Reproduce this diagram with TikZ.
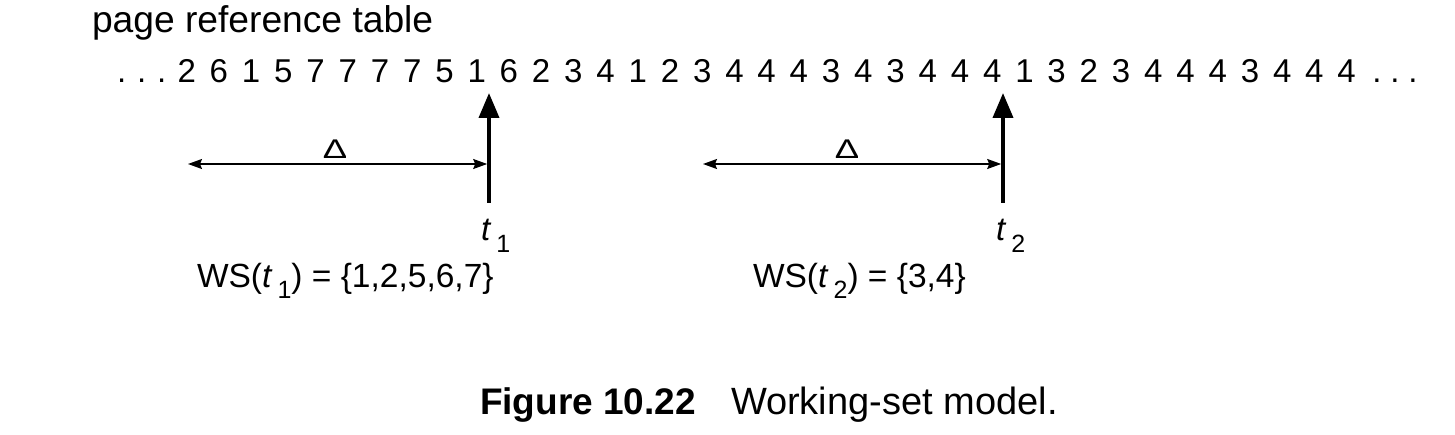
\documentclass[tikz,border=0pt]{standalone}
\usepackage{fontspec}
\setmainfont{Liberation Sans}
\usetikzlibrary{arrows.meta}
\newcommand{\subsc}[2]{\kern5pt\raisebox{-#1}{\fontsize{25}{30}\selectfont #2}}
\tikzset{
  txt/.style={inner sep=0pt, outer sep=0pt, anchor=base},
  txtw/.style={inner sep=0pt, outer sep=0pt, anchor=base west},
  digit/.style={txt, font=\fontsize{33}{40}\selectfont},
  label/.style={txtw, font=\fontsize{33}{40}\selectfont},
  bigarrow/.style={line width=3.8pt, -{Triangle[length=25pt,width=20pt]}},
  deltaarrow/.style={line width=1.5pt, {Stealth[length=14pt,width=10pt,inset=2pt]}-{Stealth[length=14pt,width=10pt,inset=2pt]}},
  deltalabel/.style={txt, font=\fontsize{27}{32}\selectfont},
}
\begin{document}
\begin{tikzpicture}[x=1pt,y=-1pt]
\useasboundingbox (0,0) rectangle (1455,435);
\node[label, font=\fontsize{37.2}{44}\selectfont] (title) at (92,33) {page reference table};
% leading and trailing dots
\node[digit] (l1) at (121.7,83) {.};
\node[digit] (l2) at (141.7,83) {.};
\node[digit] (l3) at (161.7,83) {.};
\node[digit] (r1) at (1377,83) {.};
\node[digit] (r2) at (1395,83) {.};
\node[digit] (r3) at (1413,83) {.};
% reference string
\foreach \d [count=\i] in {2,6,1,5,7,7,7,7,5,1,6,2,3,4,1,2,3,4,4,4,3,4,3,4,4,4,1,3,2,3,4,4,4,3,4,4,4}
  \node[digit] (d\i) at ({186.7+(\i-1)*32.22},83) {\d};
% time arrows
\coordinate (t1b) at (489,203);
\coordinate (t1t) at (489,93);
\coordinate (t2b) at (1003,203);
\coordinate (t2t) at (1003,93);
\draw[bigarrow] (t1b) -- (t1t);
\draw[bigarrow] (t2b) -- (t2t);
% window arrows
\coordinate (w1l) at (188,164);
\coordinate (w1r) at (487.2,164);
\coordinate (w2l) at (703,164);
\coordinate (w2r) at (1001.2,164);
\draw[deltaarrow] (w1l) -- (w1r);
\draw[deltaarrow] (w2l) -- (w2r);
\node[deltalabel] (del1) at (335,159) {\scalebox{1.35}[1]{\char"0394}};
\node[deltalabel] (del2) at (847,159) {\scalebox{1.35}[1]{\char"0394}};
% time labels
\node[label] (lt1) at (481,241) {\textit{t}\subsc{12pt}{1}};
\node[label] (lt2) at (996,241) {\textit{t}\subsc{12pt}{2}};
% working sets
\node[label, font=\fontsize{33.5}{40}\selectfont] (ws1) at (197,288) {WS(\textit{t}\subsc{10pt}{1}) = \{1,2,5,6,7\}};
\node[label, font=\fontsize{33.5}{40}\selectfont] (ws2) at (753,288) {WS(\textit{t}\subsc{10pt}{2}) = \{3,4\}};
% caption
\node[label, font=\fontsize{37}{44}\selectfont\bfseries] (fig) at (480,414) {Figure 10.22};
\node[label, font=\fontsize{38}{45}\selectfont] (cap) at (731,414) {Working-set model.};
\end{tikzpicture}
\end{document}
